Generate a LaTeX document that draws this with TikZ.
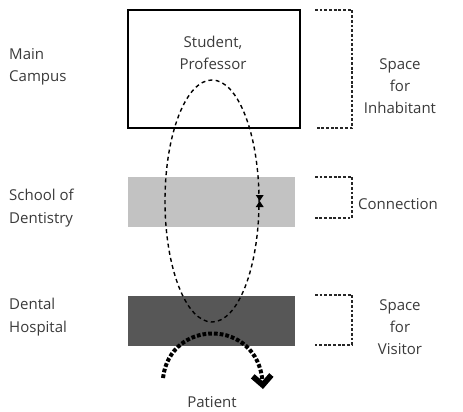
\documentclass[tikz,border=0pt]{standalone}
\usepackage{fontspec}
\setmainfont{Open Sans}
\usetikzlibrary{positioning,arrows.meta,shapes.geometric,calc}
\definecolor{inkgray}{HTML}{3A3A3A}
\definecolor{lightband}{HTML}{C2C2C2}
\definecolor{darkband}{HTML}{575757}
\tikzset{
  sidetext/.style={font=\fontsize{12.8}{19}\selectfont, text=inkgray, align=center, inner sep=0pt},
  lefttext/.style={sidetext, align=left, anchor=west},
  campusbox/.style={draw, line width=1.7pt, minimum width=5.16cm, minimum height=3.54cm, inner sep=0pt},
  bandbox/.style={minimum width=5.01cm, minimum height=1.5cm, inner sep=0pt},
  bracket/.style={dash pattern=on 2.4pt off 1.6pt, line width=1.1pt, black!85},
  routering/.style={ellipse, draw, dash pattern=on 3.4pt off 2.8pt, line width=1.2pt, minimum width=2.82cm, minimum height=7.26cm, inner sep=0pt},
  patientpath/.style={dash pattern=on 3.2pt off 1.7pt, line width=3.4pt, -{Straight Barb[length=2.8mm, width=5.6mm, line width=1.7mm]}}
}

\begin{document}
\begin{tikzpicture}[x=0.03cm, y=-0.03cm]
  \useasboundingbox (0,0) rectangle (463,412);
  % three layers
  \node[campusbox] (campus) at (214,69) {};
  \node[bandbox, fill=lightband] (school) at (211.5,202) {};
  \node[bandbox, fill=darkband] (hospital) at (211.5,321) {};
  \node[sidetext] (people) at (213,53) {Student,\\Professor};
  % left names
  \node[lefttext] (maincampus) at (9,67) {Main\\Campus};
  \node[lefttext] (dentistry) at (9,208) {School of\\Dentistry};
  \node[lefttext] (dental) at (9,317) {Dental\\Hospital};
  % brackets and right labels
  \draw[bracket] (315,10) -- (352,10) -- (352,128) -- (315,128);
  \draw[bracket] (315,177) -- (352,177) -- (352,218) -- (315,218);
  \draw[bracket] (315,295) -- (352,295) -- (352,345) -- (315,345);
  \node[sidetext] (inhabitant) at (400,86) {Space\\for\\Inhabitant};
  \node[sidetext] (connection) at (398,204) {Connection};
  \node[sidetext] (visitor) at (400,327) {Space\\for\\Visitor};
  % movement of inhabitants
  \node[routering] (route) at (212,201) {};
  \fill ($(route.east)+(-4,-6)$) -- ++(8,0) -- (route.east) -- cycle;
  \fill ($(route.east)+(-4,6)$) -- ++(8,0) -- (route.east) -- cycle;
  % movement of patients
  \coordinate (pstart) at (163,378);
  \coordinate (pend) at (263,389);
  \draw[patientpath] (pstart) .. controls (170,318) and (258,318) .. (pend);
  \node[sidetext] (patient) at (212,402) {Patient};
\end{tikzpicture}
\end{document}
